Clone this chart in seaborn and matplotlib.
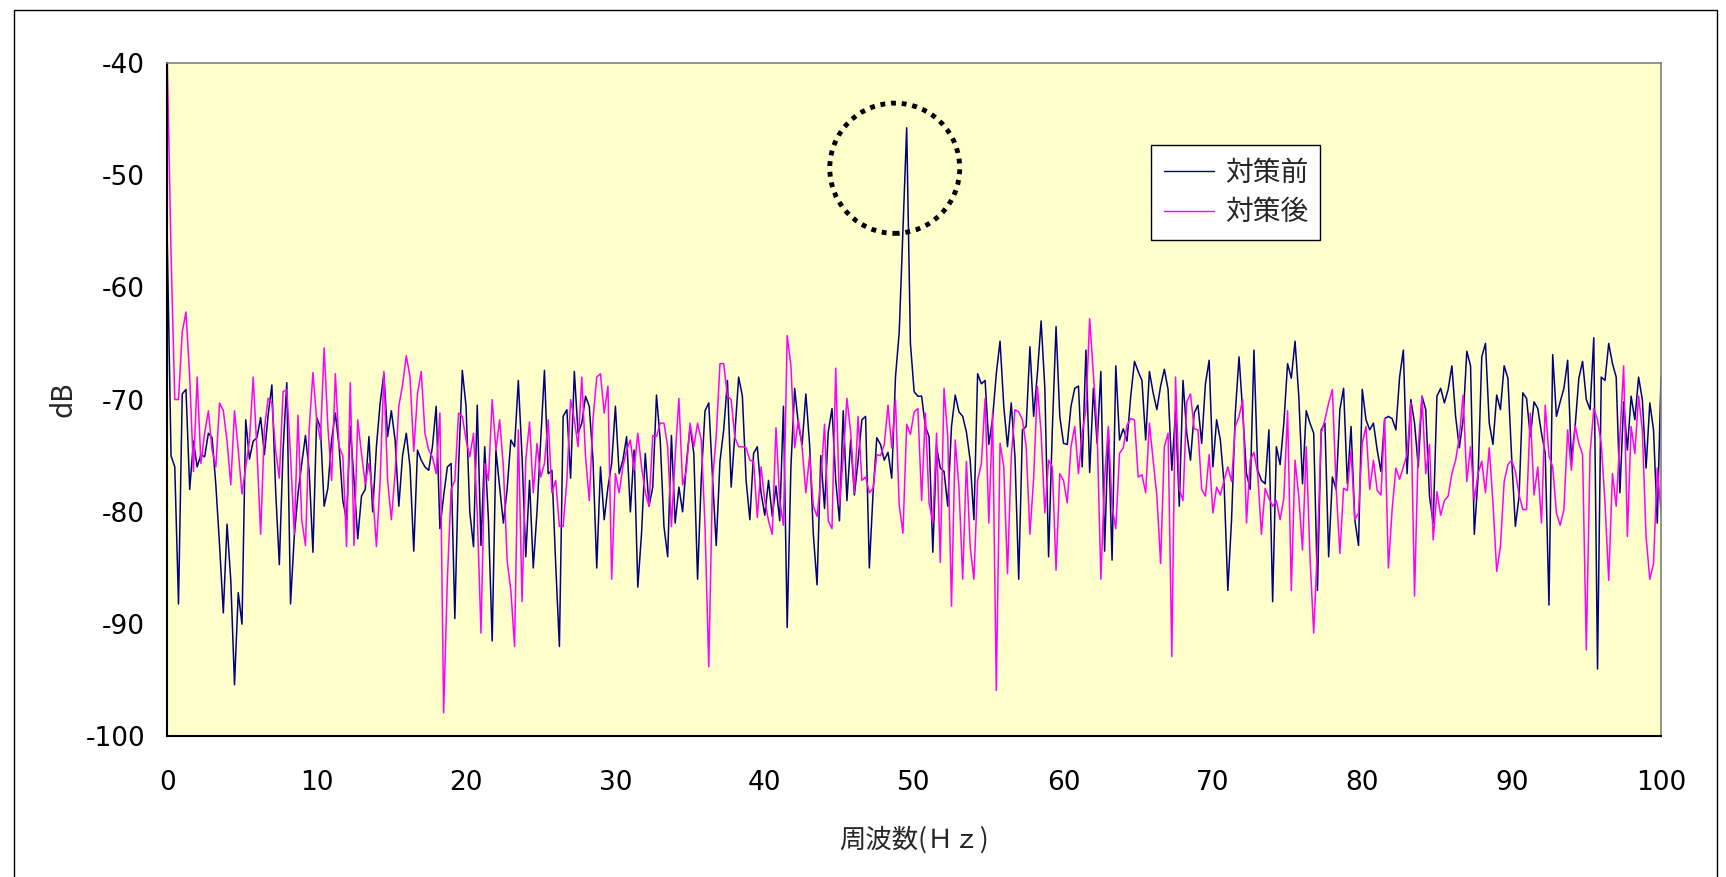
import numpy as np
import pandas as pd
import matplotlib
matplotlib.use("Agg")
import matplotlib.pyplot as plt
import seaborn as sns
from matplotlib.patches import Ellipse, Rectangle
from matplotlib.lines import Line2D

# ---------------- data (0.25 Hz steps, 0..100 Hz) ----------------
freq_step = 0.25

db_before = [
    -56, -75, -76, -88.2, -69.5, -69.1, -78, -73.7, -76, -74.9, -75.1, -73, -73.4, -77.6, -83, -89, -81.1, -86.1, -95.4, -87.2,
    -90, -71.8, -75.3, -73.7, -73.4, -71.6, -74.9, -71.4, -68.7, -78, -84.7, -74.5, -68.5, -88.2, -82.2, -78.4, -75.7, -73.2, -76.4, -83.6,
    -71.6,
    -72.5, -79.5, -77.9, -73.6, -71.2, -74.2, -79, -80.7, -72.4, -77.2, -82.4, -78.6, -78, -73.3, -80, -74.2, -70.3, -67.7, -73.3, -71,
    -73.6, -79.5, -75, -73, -76, -83.5, -74.5, -75.4, -76, -76.3, -74.2, -70.6, -81.5, -78.6, -76, -75.7, -89.5, -76, -67.4, -70.6,
    -80, -83.1, -70.5, -83, -74.2, -80.7, -91.5, -74.5, -77.8, -81, -78, -73.6, -74.2, -68.3, -75.1, -84, -77.2, -85, -80, -73.6,
    -67.4, -76.6, -76.3, -84.6, -92, -71.5, -70.9, -77, -67.5, -73, -72.1, -69.7, -70.6, -75.4, -85, -76, -80.7, -77.8, -75.7, -70.6,
    -76.6, -75.4, -73.3, -80, -74.5, -86.7, -81.9, -74.8, -79.5, -77.8, -69.6, -73.6, -81.3, -84, -73.2, -81, -77.8, -80, -75.7, -72.4,
    -74.8, -86, -77, -71, -70.3, -76.9, -83, -75.5, -72.7, -68.3, -77.8, -73, -68, -69.7, -77.2, -80.7, -74.8, -74.2, -78.3, -80.3,
    -77.2, -80.4, -77.7, -80.8, -70.6, -90.3, -76, -69, -72.2, -74, -69.5, -74, -82, -86.5, -75, -79.7, -72.9, -70.8, -77.2, -80.8,
    -71, -79, -73.6, -78.5, -75.4, -71.8, -71.5, -85, -78.3, -73.4, -74, -75.4, -74.7, -77, -68, -64, -55, -45.8, -65, -69.3,
    -69.7, -69.7, -72.4, -73.3, -83.6, -74.2, -76.1, -76.4, -79.5, -72.4, -69.6, -71.1, -71.5, -72.9, -75.4, -80.7, -67.7, -68.6, -68.3, -74,
    -71.7, -67.7, -64.8, -70.6, -74.2, -70.3, -75.1, -86, -72.7, -72.4, -65.3, -71.5, -67.7, -63, -69, -84, -72.7, -63.5, -71.5, -73.9,
    -74, -70.6, -69, -68.8, -76, -65.6, -76.5, -69, -73.9, -67.5, -83.5, -72.7, -84.3, -67, -73.6, -72.6, -73.7, -69.7, -66.6, -67.5,
    -68.3, -73.6, -67.5, -69.4, -70.9, -68.8, -67.3, -69.1, -76.3, -71, -79.5, -68.3, -73, -75.4, -71.2, -70.5, -73.9, -68.6, -66.5, -76,
    -71.8, -73.6, -77.5, -87, -80.7, -71.2, -66.2, -71.2, -76.6, -78, -65.6, -76.3, -77.2, -77.5, -72.7, -88, -74.2, -75.8, -72.1, -66.8,
    -68.1, -64.8, -69.7, -77.5, -71, -72.1, -73, -87, -72.7, -72.1, -84, -76.9, -78, -70.9, -69, -77.5, -72.4, -80.7, -83, -69.1,
    -71.8, -72.7, -72.1, -74.5, -76.4, -71.7, -71.5, -71.7, -72.7, -68, -65.6, -76.6, -70, -72.1, -76, -69.7, -70.9, -78.6, -81, -69.7,
    -69, -70.3, -69.1, -67, -71.5, -74.3, -71.8, -65.7, -67, -82, -77, -66.2, -65, -72.1, -74, -69.6, -70.9, -67, -68.1, -75.1,
    -81.3, -78.6, -69.4, -69.9, -73.3, -70.2, -70.8, -73, -74.8, -88.3, -66, -71.5, -70.2, -69, -66.5, -75.4, -72.4, -68.1, -66.6, -70,
    -70.9, -64.5, -94, -68, -68.3, -65, -66.8, -68, -78.3, -70.2, -74.5, -69.7, -71.8, -68, -70, -76.1, -70.3, -72.7, -81, -68,
]

db_after = [
    -40, -57, -70, -70, -64, -62.2, -68, -76.4, -68, -75.7, -73, -71, -74.5, -76, -70.3, -71, -73.7, -77.6, -71, -74.5,
    -78.4, -76, -73.7, -68, -74.5, -82, -72.6, -69.9, -70.3, -74.5, -77, -69.3, -69.1, -75, -82, -71.4, -80.7, -83, -72.6, -67.6,
    -71.8,
    -73.6, -65.4, -72.4, -77.2, -67.7, -74.2, -75, -83.1, -68.5, -83, -71.8, -74.8, -77.5, -75.7, -78.3, -83.1, -77.2, -67.5, -77.2, -80.7,
    -76.6, -70.6, -68.7, -66.1, -68, -74.6, -69.5, -67.5, -73, -74.5, -75.1, -76.6, -71.2, -97.9, -86, -78, -77.2, -71.2, -71.5, -73.6,
    -75.1, -73, -80.1, -90.8, -75.7, -77.2, -70, -74.5, -71.8, -76, -84.3, -87, -92, -72.7, -88, -75.4, -72, -78.3, -73.9, -76.9,
    -75.7, -71.8, -78.3, -77.2, -81.3, -81.3, -77.2, -70, -71.8, -74.2, -68, -75.1, -79, -71.8, -68, -67.7, -71.2, -68.8, -86, -76.6,
    -78.3, -76, -74.5, -73.6, -76.3, -73, -76, -78.3, -79.5, -73.2, -73.3, -72.1, -72.1, -74.2, -81.3, -75.1, -69.9, -77.6, -76.3, -72.1,
    -74.2, -72.1, -73.6, -81.3, -93.8, -77.2, -73.3, -66.8, -66.8, -69.7, -70, -73.4, -74.2, -74.2, -74.3, -75.4, -75.5, -80.5, -76, -79,
    -80.8, -82, -72.5, -79, -81.2, -64.3, -67, -74.3, -71.8, -74.3, -78.3, -75, -79.5, -80.4, -77.2, -72.2, -80.8, -81.5, -67.2, -79.4,
    -75.2, -69.9, -72.9, -78.3, -71.5, -77.2, -76.9, -78.3, -77.9, -74.9, -75, -74, -70.5, -74.3, -70, -79.4, -81.9, -72.2, -73.1, -71.1,
    -70.8, -79, -71.2, -79.2, -81, -73, -84.5, -69, -73.3, -88.4, -73.6, -77.8, -86, -75.5, -83.1, -86, -77.2, -75.7, -69.9, -81,
    -71.2, -95.9, -73.9, -76, -85.5, -75.1, -70.9, -71.1, -71.8, -74.2, -82, -77, -68.8, -73, -80.1, -75.4, -76, -85.2, -76.6, -77.2,
    -79.2, -74.2, -72.4, -76.6, -73, -70.9, -62.8, -67.7, -72.7, -86, -77, -72.4, -79.5, -81.5, -74.8, -74.3, -72.3, -71.7, -71.8, -76.9,
    -76.7, -78.3, -72.1, -75.4, -78.6, -84.6, -74.2, -73, -92.9, -68, -78, -79, -70.2, -69.5, -72.6, -72.7, -78, -78.6, -74.9, -80.1,
    -77.8, -78.5, -77.2, -76, -77.3, -72.4, -71.5, -70, -81, -75.4, -74.7, -76.6, -82, -77.9, -78.8, -79.5, -79, -80.7, -78.8, -71,
    -87, -75.4, -78.6, -83.4, -74.2, -84, -90.8, -83.1, -73, -71.8, -70.3, -69.1, -77.8, -83.7, -77.9, -78.1, -74.5, -80.7, -80.1, -73.9,
    -72.4, -78, -75.4, -78.1, -78.5, -71.7, -85, -79.8, -76.1, -77.1, -76, -74.9, -70.3, -87.5, -74.2, -69.7, -76.6, -74, -82.5, -78.2,
    -80.3, -79, -78.6, -76.6, -75.4, -73.3, -69.6, -77.3, -74.2, -79, -76.6, -75.5, -78.3, -74.3, -79.2, -85.3, -83.1, -77.3, -75.8, -75.4,
    -76.4, -78.5, -79.8, -79.8, -71.2, -78.5, -76, -81, -70.5, -75, -76, -80.1, -81.2, -79.8, -72.7, -76.3, -72.3, -73.9, -74.9, -92.3,
    -74.8, -70.8, -71.8, -73.9, -79.2, -86.1, -76.6, -79.5, -73.3, -67, -82.2, -72.4, -74.8, -69.7, -72.7, -82.2, -86, -84.6, -76.1, -80,
]

series_names = ["対策前", "対策後"]
series_colors = ["#000080", "#FF00FF"]
x_ticks = [0, 10, 20, 30, 40, 50, 60, 70, 80, 90, 100]
x_tick_labels = ["0", "10", "20", "30", "40", "50", "60", "70", "80", "90", "100"]
y_ticks = [-100, -90, -80, -70, -60, -50, -40]
y_tick_labels = ["-100", "-90", "-80", "-70", "-60", "-50", "-40"]
x_label = "周波数(Ｈｚ)"
y_label = "dB"

# ---------------- build long table ----------------
df = pd.concat([
    pd.DataFrame({"freq": np.arange(len(db_before)) * freq_step, "db": db_before, "series": series_names[0]}),
    pd.DataFrame({"freq": np.arange(len(db_after)) * freq_step, "db": db_after, "series": series_names[1]}),
], ignore_index=True)

# ---------------- style ----------------
sns.set_style("white")
plt.rcParams["font.family"] = ["Noto Sans CJK JP", "DejaVu Sans"]
plt.rcParams["axes.unicode_minus"] = False

W, H = 1726, 877
fig = plt.figure(figsize=(W / 100, H / 100), dpi=100)
fig.patch.set_facecolor("white")

L, R, T, B = 167.3, 1661.0, 62.7, 736.4
ax = fig.add_axes([L / W, 1 - B / H, (R - L) / W, (B - T) / H])
ax.set_facecolor("#FFFFCC")

sns.lineplot(data=df, x="freq", y="db", hue="series",
             palette=dict(zip(series_names, series_colors)),
             estimator=None, sort=False, linewidth=1.1, ax=ax, legend=False)

ax.set_xlim(0, 100)
ax.set_ylim(-100, -40)
ax.set_xticks(x_ticks)
ax.set_xticklabels(x_tick_labels, fontfamily="DejaVu Sans")
ax.set_yticks(y_ticks)
ax.set_yticklabels(y_tick_labels, fontfamily="DejaVu Sans")
ax.tick_params(axis="both", labelsize=19, colors="black", length=6, width=1.0)
ax.tick_params(axis="x", direction="in", pad=24)
ax.tick_params(axis="y", direction="out", pad=10)

for side in ["top", "right"]:
    ax.spines[side].set_color("#808080")
    ax.spines[side].set_linewidth(1.2)
for side in ["left", "bottom"]:
    ax.spines[side].set_color("black")
    ax.spines[side].set_linewidth(1.5)

ax.set_xlabel(x_label, fontsize=19, labelpad=22)
ax.set_ylabel(y_label, fontsize=20, labelpad=5)

# dotted circle around the 49 Hz peak
circ = Ellipse((48.7, -49.4), width=8.7, height=11.6, fill=False,
               edgecolor="black", linestyle=(0, (1, 1.2)), linewidth=3.5, zorder=5)
ax.add_patch(circ)

# legend
handles = [Line2D([0], [0], color=c, lw=1.0) for c in series_colors]
leg = ax.legend(handles, series_names, loc="upper left", bbox_to_anchor=(0.6586, 0.8778),
                borderaxespad=0, fontsize=20, frameon=True, fancybox=False,
                edgecolor="black", framealpha=1, handlelength=1.8, handletextpad=0.4,
                borderpad=0.45, labelspacing=0.35)
leg.get_frame().set_linewidth(1.0)

# outer chart frame
fig.add_artist(Rectangle((14 / W, -0.02), (1717 - 14) / W, 1 - 10 / H + 0.02,
                         transform=fig.transFigure, fill=False, edgecolor="black", linewidth=1.0))

fig.savefig("out.png", dpi=100)
